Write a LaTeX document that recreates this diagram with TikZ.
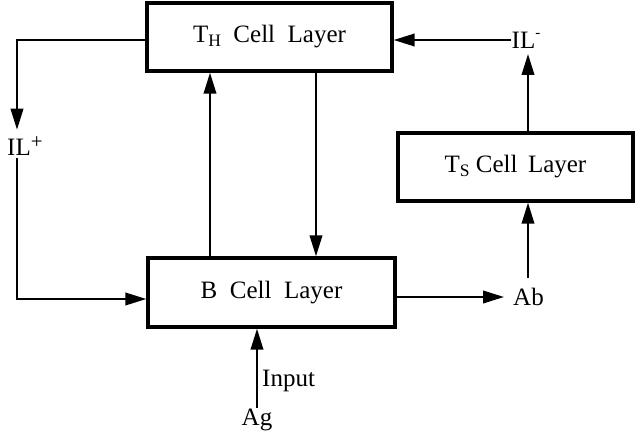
\documentclass[tikz,border=0pt]{standalone}
\usepackage{fontspec}
\setmainfont{Liberation Serif}
\usetikzlibrary{arrows.meta,calc}
\tikzset{
  layerbox/.style={draw, line width=3.4pt, inner sep=0pt},
  lbl/.style={inner sep=1pt},
  arr/.style={line width=2.2pt, -{Triangle[length=21pt,width=12.5pt]}}
}
\newcommand{\sub}[1]{\raisebox{-0.32ex}{\fontsize{17.5}{17.5}\selectfont #1}}
\newcommand{\sups}[1]{\raisebox{0.55ex}{\fontsize{21}{21}\selectfont #1}}
\newcommand{\supm}[1]{\raisebox{0.9ex}{\fontsize{15}{15}\selectfont #1}}
\begin{document}
\begin{tikzpicture}[x=1pt,y=-1pt,font=\fontsize{25}{28}\selectfont]
\useasboundingbox (0,0) rectangle (643,436);
% boxes
\node[layerbox, minimum width=245, minimum height=68] (th) at (269.5,37) {T\sub{H}\ \ Cell\ \ Layer};
\node[layerbox, minimum width=235, minimum height=68] (ts) at (515.5,167) {T\sub{S} Cell\ \,Layer};
\node[layerbox, minimum width=247, minimum height=69] (b) at (271.5,292.5) {B\ \ Cell\ \ Layer};
% labels
\node[lbl, anchor=west] (ilp) at (6,146) {IL\sups{+}};
\node[lbl] (ilm) at (526,40) {IL\supm{-}};
\node[lbl, anchor=west] (ab) at (512,297) {Ab};
\node[lbl] (ag) at (257,420) {Ag};
\node[lbl, anchor=west] (inp) at (261,381) {Input};
% helper coordinates
\coordinate (lx) at (17,0);
\coordinate (ux) at (210,0);
\coordinate (dx) at (316,0);
\coordinate (bo) at ($(b.east)+(0,4.5)$);
\coordinate (abin) at (504,297);
\coordinate (abup) at (528,278);
\coordinate (tsup) at (528,133);
\coordinate (ilmdown) at (528,54);
% connectors
\draw[arr] ($(th.west)+(0,3)$) -| ($(ilp.north -| lx)+(0,-6)$);
\draw[arr] ($(ilp.south -| lx)+(0,2)$) |- ($(b.west)+(0,6.5)$);
\draw[arr] (b.north -| ux) -- (th.south -| ux);
\draw[arr] (th.south -| dx) -- (b.north -| dx);
\draw[arr] (bo) -- (abin);
\draw[arr] (abup) -- (abup |- ts.south);
\draw[arr] (tsup |- ts.north) -- (ilmdown);
\draw[arr] (ilm.west) -- (ilm.west -| th.east);
\draw[arr] (ag.north) -- (ag.north |- b.south);
\end{tikzpicture}
\end{document}
